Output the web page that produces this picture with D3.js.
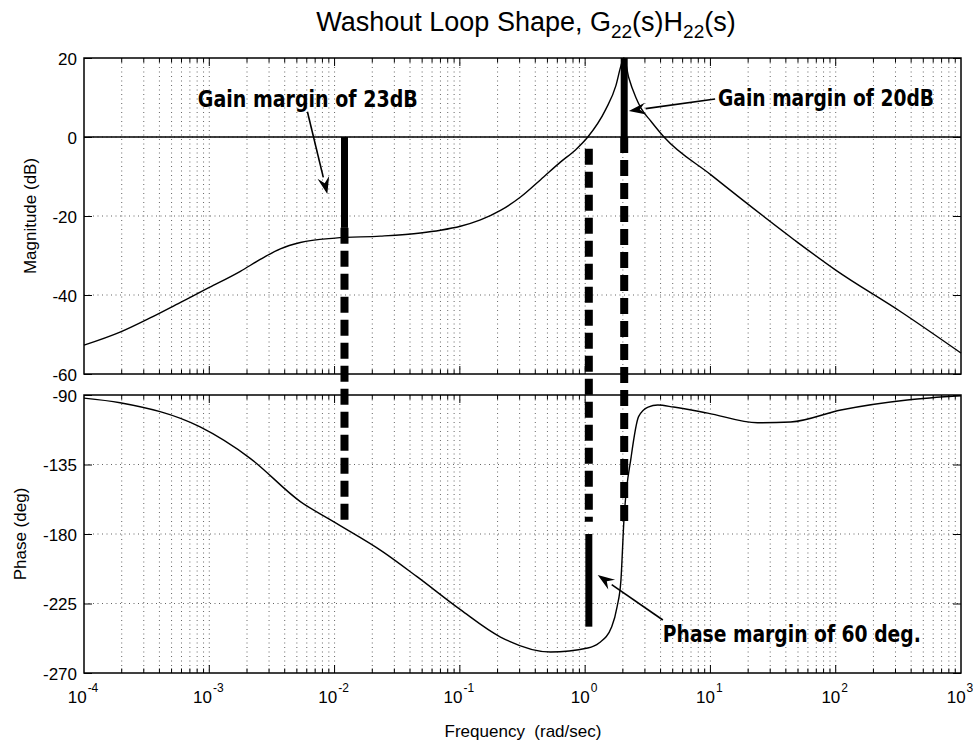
<!DOCTYPE html>
<html>
<head>
<meta charset="utf-8">
<script src="https://cdn.jsdelivr.net/npm/d3@7"></script>
<style>
  body { margin: 0; background: #fff; }
  text { font-family: "Liberation Sans", Arial, Helvetica, sans-serif; fill: #000; }
  .note { font-family: "Liberation Sans Narrow", "Arial Narrow", "DejaVu Sans Condensed", sans-serif; font-weight: bold; }
</style>
</head>
<body>
<svg id="chart" width="973" height="746"></svg>
<script>
// Open-loop magnitude response (rad/sec, dB)
const magFreq = [1e-4, 1.94e-4, 3.37e-4, 5.85e-4, 1e-3, 1.77e-3, 2.55e-3, 3.69e-3, 5.33e-3, 0.0101,
                 0.0232, 0.0485, 0.070, 0.101, 0.146, 0.211, 0.305, 0.441, 0.638, 0.841,
                 1.05, 1.46, 1.76, 1.93, 2.04, 2.23, 2.54, 2.79, 3.35, 4.26,
                 10.1, 46.5, 100, 333, 1000];
const magDb = [-52.7, -49.4, -45.8, -41.9, -38.1, -34.0, -31.0, -28.3, -26.7, -25.6,
               -25.1, -24.3, -23.6, -22.6, -21.0, -18.6, -15.2, -10.8, -6.3, -3.2,
               0, 7, 13, 18, 20, 15, 10, 7.3, 4, 0,
               -9.6, -26, -33.7, -44.3, -54.7];

// Open-loop phase response (rad/sec, deg)
const phaseFreq = [1e-4, 1.94e-4, 8.45e-4, 2.12e-3, 5.33e-3, 9.8e-3, 0.0245, 0.0458, 0.101, 0.211,
                   0.53, 1.05, 1.29, 1.63, 1.80, 1.93, 2.04, 2.33, 2.67, 3.18,
                   3.8, 5.08, 9.5, 23.8, 43.7, 110, 372, 1000];
const phaseDeg = [-92, -95, -110.7, -131, -159, -172, -191.7, -207.8, -229, -246.7,
                  -256.4, -253.8, -250.6, -240, -227, -210, -171, -130, -104, -97.8,
                  -96.5, -97.8, -101.7, -108, -107.5, -99.7, -93.2, -90.5];

// Axis ticks
const decadeExponents = [-4, -3, -2, -1, 0, 1, 2, 3];
const magTicks = [20, 0, -20, -40, -60];
const phaseTicks = [-90, -135, -180, -225, -270];

// Stability margins
const gainMarginFreq = [0.012, 2.05];
const gainMarginDb = [23, 20];
const gainMarginSign = [-1, 1];          // bar drawn below / above the 0 dB line
const phaseMarginFreq = [1.07];
const phaseMarginDeg = [60];
// dashed links between the two panels
const linkFreq = [0.012, 1.07, 2.05];
const linkMagStart = [-23, -3, 0];
const linkPhaseEnd = [-172, -172, -172];

// Annotation text anchors and arrows (data coordinates)
const noteText = ["Gain margin of " + gainMarginDb[0] + "dB",
                  "Gain margin of " + gainMarginDb[1] + "dB",
                  "Phase margin of " + phaseMarginDeg[0] + " deg."];
const notePanel = ["mag", "mag", "phase"];
const noteAt = [[8.1e-4, 7.6], [11.5, 7.8], [4.17, -250]];
const noteWidth = [220, 216, 258];
const arrowFrom = [[6.07e-3, 6.4], [10.9, 9.6], [4.17, -235.7]];
const arrowTo = [[8.75e-3, -14.4], [2.23, 6.6], [1.26, -206.5]];

const svg = d3.select("#chart");

const x = d3.scaleLog().domain([1e-4, 1e3]).range([84, 961]);
const yMag = d3.scaleLinear().domain([-60, 20]).range([374, 58]);
const yPh = d3.scaleLinear().domain([-270, -90]).range([673, 395]);
const yOf = { mag: yMag, phase: yPh };

const minorTicks = [];
for (let e = -4; e < 3; e++) for (let k = 2; k <= 9; k++) minorTicks.push(k * Math.pow(10, e));
const majorInner = decadeExponents.slice(1, -1).map(e => Math.pow(10, e));

// Title
const title = svg.append("text").attr("x", 526).attr("y", 31)
  .attr("text-anchor", "middle").style("font-size", "27px");
title.append("tspan").text("Washout Loop Shape, G");
title.append("tspan").attr("dy", 7).style("font-size", "19px").text("22");
title.append("tspan").attr("dy", -7).text("(s)H");
title.append("tspan").attr("dy", 7).style("font-size", "19px").text("22");
title.append("tspan").attr("dy", -7).text("(s)");

function panel(y, yTicks, yLabel, labelX) {
  const [y0, y1] = y.range();
  const g = svg.append("g");
  // dotted grid
  const grid = g.append("g").attr("stroke", "#000").attr("stroke-width", 1)
    .attr("stroke-dasharray", "1,3.5").attr("opacity", 0.6);
  grid.selectAll(".v").data(minorTicks.concat(majorInner)).join("line")
    .attr("x1", d => x(d)).attr("x2", d => x(d)).attr("y1", y1).attr("y2", y0);
  grid.selectAll(".h").data(yTicks.slice(1, -1)).join("line")
    .attr("x1", x.range()[0]).attr("x2", x.range()[1]).attr("y1", d => y(d)).attr("y2", d => y(d));

  // y axis left with labels, right without
  const left = g.append("g").attr("transform", `translate(${x.range()[0]},0)`)
    .call(d3.axisLeft(y).tickValues(yTicks).tickSize(-8).tickSizeOuter(0).tickPadding(7).tickFormat(d => String(d)));
  left.selectAll("text").style("font-size", "17px").attr("dy", "0.36em");
  g.append("g").attr("transform", `translate(${x.range()[1]},0)`)
    .call(d3.axisRight(y).tickValues(yTicks).tickSize(-8).tickSizeOuter(0).tickFormat(""));

  // x ticks on top and bottom (major + minor)
  for (const [yy, dir] of [[y0, -1], [y1, 1]]) {
    const t = g.append("g").attr("stroke", "#000").attr("stroke-width", 1);
    t.selectAll(".mj").data(majorInner).join("line")
      .attr("x1", d => x(d)).attr("x2", d => x(d)).attr("y1", yy).attr("y2", yy + dir * 8);
    t.selectAll(".mn").data(minorTicks).join("line")
      .attr("x1", d => x(d)).attr("x2", d => x(d)).attr("y1", yy).attr("y2", yy + dir * 4.5);
  }
  g.selectAll(".domain").remove();
  g.append("rect").attr("x", x.range()[0]).attr("y", y1)
    .attr("width", x.range()[1] - x.range()[0]).attr("height", y0 - y1)
    .attr("fill", "none").attr("stroke", "#000").attr("stroke-width", 1.5);

  svg.append("text").attr("transform", `translate(${labelX},${(y0 + y1) / 2}) rotate(-90)`)
    .attr("text-anchor", "middle").style("font-size", "17px").text(yLabel);
  return g;
}

const magPanel = panel(yMag, magTicks, "Magnitude (dB)", 36);
const phPanel = panel(yPh, phaseTicks, "Phase (deg)", 26);

// 0 dB reference line
magPanel.append("line").attr("x1", x.range()[0]).attr("x2", x.range()[1])
  .attr("y1", yMag(0)).attr("y2", yMag(0)).attr("stroke", "#000").attr("stroke-width", 1.5);

// Response curves
const magLine = d3.line().x(i => x(magFreq[i])).y(i => yMag(magDb[i])).curve(d3.curveMonotoneX);
svg.append("path").attr("d", magLine(d3.range(magFreq.length)))
  .attr("fill", "none").attr("stroke", "#000").attr("stroke-width", 1.4);
const phLine = d3.line().x(i => x(phaseFreq[i])).y(i => yPh(phaseDeg[i])).curve(d3.curveMonotoneX);
svg.append("path").attr("d", phLine(d3.range(phaseFreq.length)))
  .attr("fill", "none").attr("stroke", "#000").attr("stroke-width", 1.4);

// Dashed links between panels
svg.append("g").selectAll("line").data(d3.range(linkFreq.length)).join("line")
  .attr("x1", i => x(linkFreq[i])).attr("x2", i => x(linkFreq[i]))
  .attr("y1", i => yMag(linkMagStart[i])).attr("y2", i => yPh(linkPhaseEnd[i]))
  .attr("stroke", "#000").attr("stroke-width", 8).attr("stroke-dasharray", "16,7");

// Gain margin bars
svg.append("g").selectAll("line").data(d3.range(gainMarginFreq.length)).join("line")
  .attr("x1", i => x(gainMarginFreq[i])).attr("x2", i => x(gainMarginFreq[i]))
  .attr("y1", yMag(0)).attr("y2", i => yMag(gainMarginSign[i] * gainMarginDb[i]))
  .attr("stroke", "#000").attr("stroke-width", 7);

// Phase margin bar, measured down from -180 deg
svg.append("g").selectAll("line").data(d3.range(phaseMarginFreq.length)).join("line")
  .attr("x1", i => x(phaseMarginFreq[i])).attr("x2", i => x(phaseMarginFreq[i]))
  .attr("y1", yPh(-180)).attr("y2", i => yPh(-180 - phaseMarginDeg[i]))
  .attr("stroke", "#000").attr("stroke-width", 7);

// Annotations
noteText.forEach((txt, i) => {
  const yy = yOf[notePanel[i]];
  svg.append("text").attr("class", "note")
    .attr("x", x(noteAt[i][0])).attr("y", yy(noteAt[i][1]))
    .attr("textLength", noteWidth[i]).attr("lengthAdjust", "spacingAndGlyphs")
    .style("font-size", "23px").text(txt);
  const x1 = x(arrowFrom[i][0]), y1 = yy(arrowFrom[i][1]);
  const x2 = x(arrowTo[i][0]), y2 = yy(arrowTo[i][1]);
  const ang = Math.atan2(y2 - y1, x2 - x1);
  const L = 17, W = 6;
  const bx = x2 - L * Math.cos(ang), by = y2 - L * Math.sin(ang);
  svg.append("line").attr("x1", x1).attr("y1", y1).attr("x2", bx).attr("y2", by)
    .attr("stroke", "#000").attr("stroke-width", 1.6);
  const px = -Math.sin(ang) * W, py = Math.cos(ang) * W;
  svg.append("path")
    .attr("d", `M${x2},${y2}L${bx + px},${by + py}L${bx + 0.35 * L * Math.cos(ang)},${by + 0.35 * L * Math.sin(ang)}L${bx - px},${by - py}Z`)
    .attr("fill", "#000");
});

// Frequency decade labels
const xl = svg.append("g").selectAll("text").data(decadeExponents).join("text")
  .attr("x", e => x(Math.pow(10, e)) - 1).attr("y", 703)
  .attr("text-anchor", "middle").style("font-size", "17px");
xl.append("tspan").text("10");
xl.append("tspan").attr("dy", -11).attr("dx", 1).style("font-size", "12px").text(e => e);

svg.append("text").attr("x", 523).attr("y", 737).attr("text-anchor", "middle")
  .style("font-size", "17px").attr("xml:space", "preserve").text("Frequency  (rad/sec)");
</script>
</body>
</html>
